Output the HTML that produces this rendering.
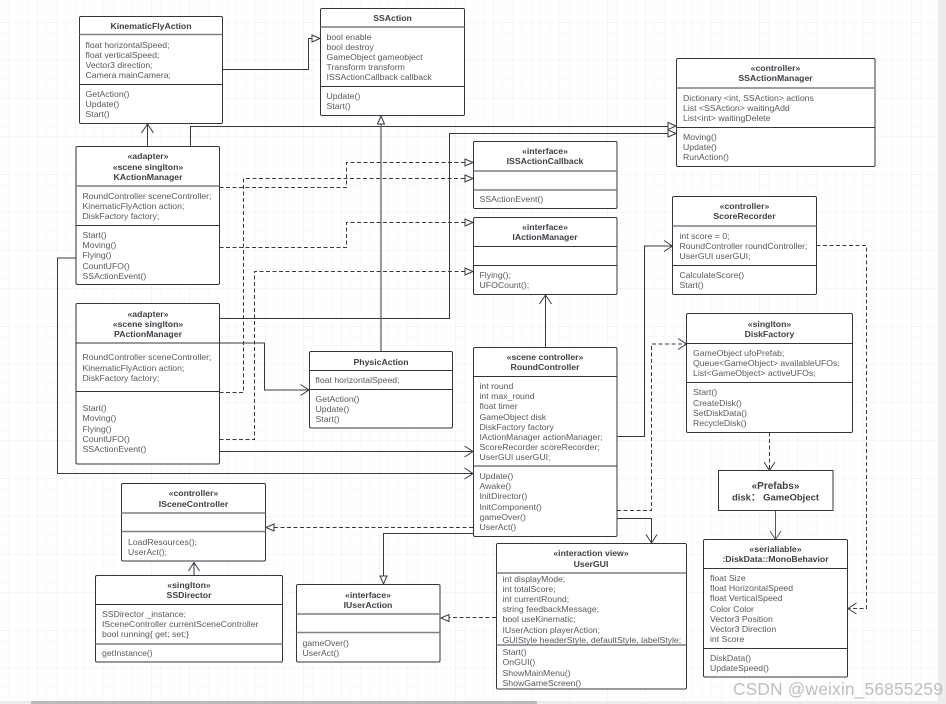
<!DOCTYPE html>
<html><head><meta charset="utf-8"><style>
html,body{margin:0;padding:0;background:#fff;width:946px;height:704px;overflow:hidden}
svg{display:block;filter:blur(0.3px)}
text{font-family:"Liberation Sans",sans-serif;font-size:8.7px;fill:#555a60}
.t{font-weight:bold;text-anchor:middle;fill:#3c4147}
.b{fill:#fff;stroke:#2f3640;stroke-width:1}
.d{stroke:#2f3640;stroke-width:1;fill:none}
.g{stroke:#7c8188;stroke-width:1.5;fill:none}
.l{stroke:#333a44;stroke-width:1;fill:none}
.da{stroke:#333a44;stroke-width:1;fill:none;stroke-dasharray:4 2.5}
.h{fill:#fff;stroke:#333a44;stroke-width:1}
</style></head><body>
<svg width="946" height="704" viewBox="0 0 946 704" xmlns="http://www.w3.org/2000/svg">
<defs>
<pattern id="m" x="-0.5" y="4" width="9.5" height="9.5" patternUnits="userSpaceOnUse"><path d="M9.5 0V9.5M0 9.5H9.5" stroke="#f6f6f7" stroke-width="1" fill="none"/></pattern>
<pattern id="M" x="-0.5" y="-15" width="38" height="38" patternUnits="userSpaceOnUse"><path d="M38 0V38M0 38H38" stroke="#eeeeef" stroke-width="1" fill="none"/></pattern>
</defs>
<rect width="946" height="704" fill="#fff"/>
<rect width="938" height="701" fill="url(#m)"/>
<rect width="938" height="701" fill="url(#M)"/>
<rect x="938" y="0" width="8" height="704" fill="#ececed"/>
<rect x="0" y="701" width="946" height="3" fill="#ececed"/>
<rect x="31" y="701" width="506" height="3" fill="#bcbcbc"/>

<!-- connectors -->
<path class="l" d="M222.5 69.5H308.5V38.5H312"/>
<path class="l" d="M147.5 146V124M141.5 133L147.5 124L153.5 133"/>
<path class="l" d="M190.5 146V126.5H668"/>
<path class="l" d="M219.5 318.5H449.5V133.5H668"/>
<path class="da" d="M219.5 187.5H346.5V162.5H465"/>
<path class="da" d="M219.5 392.5H243.5V178.5H465"/>
<path class="da" d="M219.5 247.5H346.5V222.5H465"/>
<path class="da" d="M219.5 439.5H254.5V271.5H465"/>
<path class="l" d="M381 351V124" style="stroke:#555a60;stroke-width:1.2"/>
<path class="l" d="M219.5 343H264.5V390H309M300.5 384.5L309 390L300.5 395.5"/>
<path class="l" d="M219.5 451.5H473M464.5 446L473 451.5L464.5 457"/>
<path class="l" d="M76 258H57.5V473.5H473M464.5 468L473 473.5L464.5 479"/>
<path class="da" d="M473 527.5H274"/>
<path class="l" d="M473.5 533.5H383.5V576"/>
<path class="da" d="M496 617.5H449"/>
<path class="l" d="M545.5 347V295M539.5 304L545.5 295L551.5 304"/>
<path class="l" d="M617 436.5H644.5V246H672M664 240.5L672.5 246L664 251.5"/>
<path class="da" d="M617 510.5H651.5V344H686"/>
<path class="l" d="M678 338.5L686.5 344L678 349.5"/>
<path class="l" d="M617 518.5H651.5V543M646 534.5L651.5 543L657 534.5"/>
<path class="da" d="M816.5 245.5H866.5V608.5H848"/>
<path class="l" d="M856.5 603L848 608.5L856.5 614"/>
<path class="da" d="M769.5 432.5V470"/>
<path class="l" d="M764 462L769.5 470.5L775 462"/>
<path class="l" d="M775.5 510.5V539M770 531L775.5 539.5L781 531" style="stroke:#555a60"/>
<path class="l" d="M194 575.5V562M188.5 571L194 562.5L199.5 571"/>

<!-- hollow triangles -->
<path class="h" d="M320 38.5L312 35V42Z"/>
<path class="h" d="M381 116L377.5 124H384.5Z"/>
<path class="h" d="M676 126L668 122.5V129.5Z"/>
<path class="h" d="M676 133.5L668 130V137Z"/>
<path class="h" d="M473 162.5L465 159V166Z"/>
<path class="h" d="M473 178.5L465 175V182Z"/>
<path class="h" d="M473 222.5L465 219V226Z"/>
<path class="h" d="M473 271.5L465 268V275Z"/>
<path class="h" d="M266 527.5L274 524V531Z"/>
<path class="h" d="M383.5 584L380 576H387Z"/>
<path class="h" d="M441 618L449 614.5V621.5Z"/>

<!-- KinematicFlyAction -->
<rect class="b" x="79.5" y="16.5" width="143" height="107" rx="1.5"/>
<path class="g" d="M79.5 34.5H222.5"/><path class="d" d="M79.5 84.5H222.5"/>
<text class="t" x="151" y="29">KinematicFlyAction</text>
<text x="85.5" y="48">float horizontalSpeed;</text><text x="85.5" y="58">float verticalSpeed;</text><text x="85.5" y="68">Vector3 direction;</text><text x="85.5" y="78">Camera mainCamera;</text>
<text x="85.5" y="97">GetAction()</text><text x="85.5" y="107">Update()</text><text x="85.5" y="117">Start()</text>

<!-- SSAction -->
<rect class="b" x="320.5" y="8.5" width="144" height="107" rx="1.5"/>
<path class="g" d="M320.5 27H464.5"/><path class="d" d="M320.5 86.5H464.5"/>
<text class="t" x="392.5" y="21">SSAction</text>
<text x="326.5" y="40">bool enable</text><text x="326.5" y="50">bool destroy</text><text x="326.5" y="60">GameObject gameobject</text><text x="326.5" y="70">Transform transform</text><text x="326.5" y="80">ISSActionCallback callback</text>
<text x="326.5" y="99">Update()</text><text x="326.5" y="109">Start()</text>

<!-- SSActionManager -->
<rect class="b" x="676.5" y="58.5" width="198.5" height="108" rx="1.5"/>
<path class="g" d="M676.5 88H875"/><path class="d" d="M676.5 127.5H875"/>
<text class="t" x="775.5" y="71">«controller»</text><text class="t" x="775.5" y="81">SSActionManager</text>
<text x="683" y="101">Dictionary &lt;int, SSAction&gt; actions</text><text x="683" y="111">List &lt;SSAction&gt; waitingAdd</text><text x="683" y="121">List&lt;int&gt; waitingDelete</text>
<text x="683" y="140">Moving()</text><text x="683" y="150">Update()</text><text x="683" y="160">RunAction()</text>

<!-- ISSActionCallback -->
<rect class="b" x="473.5" y="141.5" width="143.5" height="67" rx="1.5"/>
<path class="g" d="M473.5 171H617"/><path class="g" d="M473.5 190H617"/>
<text class="t" x="545" y="154">«interface»</text><text class="t" x="545" y="164">ISSActionCallback</text>
<text x="479.5" y="202">SSActionEvent()</text>

<!-- IActionManager -->
<rect class="b" x="473.5" y="217.5" width="143.5" height="77" rx="1.5"/>
<path class="d" d="M473.5 246.5H617"/><path class="d" d="M473.5 265.5H617"/>
<text class="t" x="545" y="230">«interface»</text><text class="t" x="545" y="240">IActionManager</text>
<text x="479.5" y="278">Flying();</text><text x="479.5" y="288">UFOCount();</text>

<!-- ScoreRecorder -->
<rect class="b" x="672.5" y="196.5" width="144" height="98" rx="1.5"/>
<path class="g" d="M672.5 226H816.5"/><path class="d" d="M672.5 265.5H816.5"/>
<text class="t" x="744.5" y="209">«controller»</text><text class="t" x="744.5" y="219">ScoreRecorder</text>
<text x="679.5" y="239">int score = 0;</text><text x="679.5" y="249">RoundController roundController;</text><text x="679.5" y="259">UserGUI userGUI;</text>
<text x="679.5" y="278">CalculateScore()</text><text x="679.5" y="288">Start()</text>

<!-- KActionManager -->
<rect class="b" x="76" y="146.5" width="143.5" height="138" rx="1.5"/>
<path class="g" d="M76 186H219.5"/><path class="d" d="M76 225.5H219.5"/>
<text class="t" x="148" y="159">«adapter»</text><text class="t" x="148" y="170">«scene singlton»</text><text class="t" x="148" y="180">KActionManager</text>
<text x="82.5" y="199">RoundController sceneController;</text><text x="82.5" y="209">KinematicFlyAction action;</text><text x="82.5" y="219">DiskFactory factory;</text>
<text x="82.5" y="238">Start()</text><text x="82.5" y="248">Moving()</text><text x="82.5" y="258">Flying()</text><text x="82.5" y="269">CountUFO()</text><text x="82.5" y="279">SSActionEvent()</text>

<!-- PActionManager -->
<rect class="b" x="76" y="303.5" width="143.5" height="160.5" rx="1.5"/>
<path class="d" d="M76 343H219.5"/><path class="d" d="M76 391.5H219.5"/>
<text class="t" x="148" y="317">«adapter»</text><text class="t" x="148" y="327">«scene singlton»</text><text class="t" x="148" y="337">PActionManager</text>
<text x="82.5" y="360">RoundController sceneController;</text><text x="82.5" y="371">KinematicFlyAction action;</text><text x="82.5" y="381">DiskFactory factory;</text>
<text x="82.5" y="411">Start()</text><text x="82.5" y="421">Moving()</text><text x="82.5" y="432">Flying()</text><text x="82.5" y="442">CountUFO()</text><text x="82.5" y="452">SSActionEvent()</text>

<!-- PhysicAction -->
<rect class="b" x="309.5" y="351.5" width="143" height="76.5" rx="1.5"/>
<path class="d" d="M309.5 370.5H452.5"/><path class="d" d="M309.5 389.5H452.5"/>
<text class="t" x="381" y="365">PhysicAction</text>
<text x="315.5" y="383">float horizontalSpeed;</text>
<text x="315.5" y="402">GetAction()</text><text x="315.5" y="412">Update()</text><text x="315.5" y="422">Start()</text>

<!-- RoundController -->
<rect class="b" x="473.5" y="347.5" width="143.5" height="189" rx="1.5"/>
<path class="d" d="M473.5 376.5H617"/><path class="d" d="M473.5 466H617"/>
<text class="t" x="545" y="360">«scene controller»</text><text class="t" x="545" y="370">RoundController</text>
<text x="479.5" y="389">int round</text><text x="479.5" y="399">int max_round</text><text x="479.5" y="409">float timer</text><text x="479.5" y="420">GameObject disk</text><text x="479.5" y="430">DiskFactory factory</text><text x="479.5" y="440">IActionManager actionManager;</text><text x="479.5" y="450">ScoreRecorder scoreRecorder;</text><text x="479.5" y="460">UserGUI userGUI;</text>
<text x="479.5" y="479">Update()</text><text x="479.5" y="489">Awake()</text><text x="479.5" y="499">InitDirector()</text><text x="479.5" y="510">InitComponent()</text><text x="479.5" y="520">gameOver()</text><text x="479.5" y="530">UserAct()</text>

<!-- DiskFactory -->
<rect class="b" x="686.5" y="313.5" width="166" height="119" rx="1.5"/>
<path class="d" d="M686.5 343.5H852.5"/><path class="d" d="M686.5 382.5H852.5"/>
<text class="t" x="769.5" y="327">«singlton»</text><text class="t" x="769.5" y="337">DiskFactory</text>
<text x="693" y="356">GameObject ufoPrefab;</text><text x="693" y="366">Queue&lt;GameObject&gt; availableUFOs;</text><text x="693" y="376">List&lt;GameObject&gt; activeUFOs;</text>
<text x="693" y="395">Start()</text><text x="693" y="406">CreateDisk()</text><text x="693" y="416">SetDiskData()</text><text x="693" y="426">RecycleDisk()</text>

<!-- Prefabs -->
<rect class="b" x="718.5" y="470.5" width="114.5" height="40"/>
<text class="t" x="775.5" y="489" style="font-size:10px">«Prefabs»</text>
<text class="t" x="775.5" y="500.5" style="font-size:9.5px">disk： GameObject</text>

<!-- DiskData -->
<rect class="b" x="703.5" y="539.5" width="144" height="137.5" rx="1.5"/>
<path class="d" d="M703.5 568.5H847.5"/><path class="d" d="M703.5 648.5H847.5"/>
<text class="t" x="775.5" y="552">«serialiable»</text><text class="t" x="775.5" y="562">:DiskData::MonoBehavior</text>
<text x="710" y="581">float Size</text><text x="710" y="591">float HorizontalSpeed</text><text x="710" y="601">float VerticalSpeed</text><text x="710" y="612">Color Color</text><text x="710" y="622">Vector3 Position</text><text x="710" y="632">Vector3 Direction</text><text x="710" y="642">int Score</text>
<text x="710" y="661">DiskData()</text><text x="710" y="671">UpdateSpeed()</text>

<!-- UserGUI -->
<rect class="b" x="496.5" y="543.5" width="190" height="145.5" rx="1.5"/>
<path class="g" d="M496.5 573H686.5"/><path class="g" d="M496.5 645H686.5"/>
<text class="t" x="591" y="556">«interaction view»</text><text class="t" x="591" y="567">UserGUI</text>
<text x="502.5" y="582">int displayMode;</text><text x="502.5" y="592">int totalScore;</text><text x="502.5" y="602">int currentRound;</text><text x="502.5" y="612">string feedbackMessage;</text><text x="502.5" y="622">bool useKinematic;</text><text x="502.5" y="633">IUserAction playerAction;</text><text x="502.5" y="643">GUIStyle headerStyle, defaultStyle, labelStyle;</text>
<text x="502.5" y="655">Start()</text><text x="502.5" y="665">OnGUI()</text><text x="502.5" y="676">ShowMainMenu()</text><text x="502.5" y="686">ShowGameScreen()</text>

<!-- ISceneController -->
<rect class="b" x="121.5" y="483.5" width="144" height="77.5" rx="1.5"/>
<path class="g" d="M121.5 513H265.5"/><path class="g" d="M121.5 531.5H265.5"/>
<text class="t" x="193.5" y="496">«controller»</text><text class="t" x="193.5" y="507">ISceneController</text>
<text x="128" y="545">LoadResources();</text><text x="128" y="555">UserAct();</text>

<!-- SSDirector -->
<rect class="b" x="95.5" y="575.5" width="187" height="86.5" rx="1.5"/>
<path class="d" d="M95.5 604.5H282.5"/><path class="g" d="M95.5 644H282.5"/>
<text class="t" x="189" y="588">«singlton»</text><text class="t" x="189" y="598">SSDirector</text>
<text x="102" y="617">SSDirector _instance;</text><text x="102" y="627">ISceneController currentSceneController</text><text x="102" y="637">bool running{ get; set;}</text>
<text x="102" y="656">getInstance()</text>

<!-- IUserAction -->
<rect class="b" x="296.5" y="584.5" width="143.5" height="77.5" rx="1.5"/>
<path class="g" d="M296.5 614H440"/><path class="g" d="M296.5 632.5H440"/>
<text class="t" x="368" y="598">«interface»</text><text class="t" x="368" y="608">IUserAction</text>
<text x="302.5" y="646">gameOver()</text><text x="302.5" y="656">UserAct()</text>

<text x="733" y="695" style="font-size:17.3px;fill:#bcbec0;letter-spacing:0.2px">CSDN @weixin_56855259</text>
</svg>
</body></html>
